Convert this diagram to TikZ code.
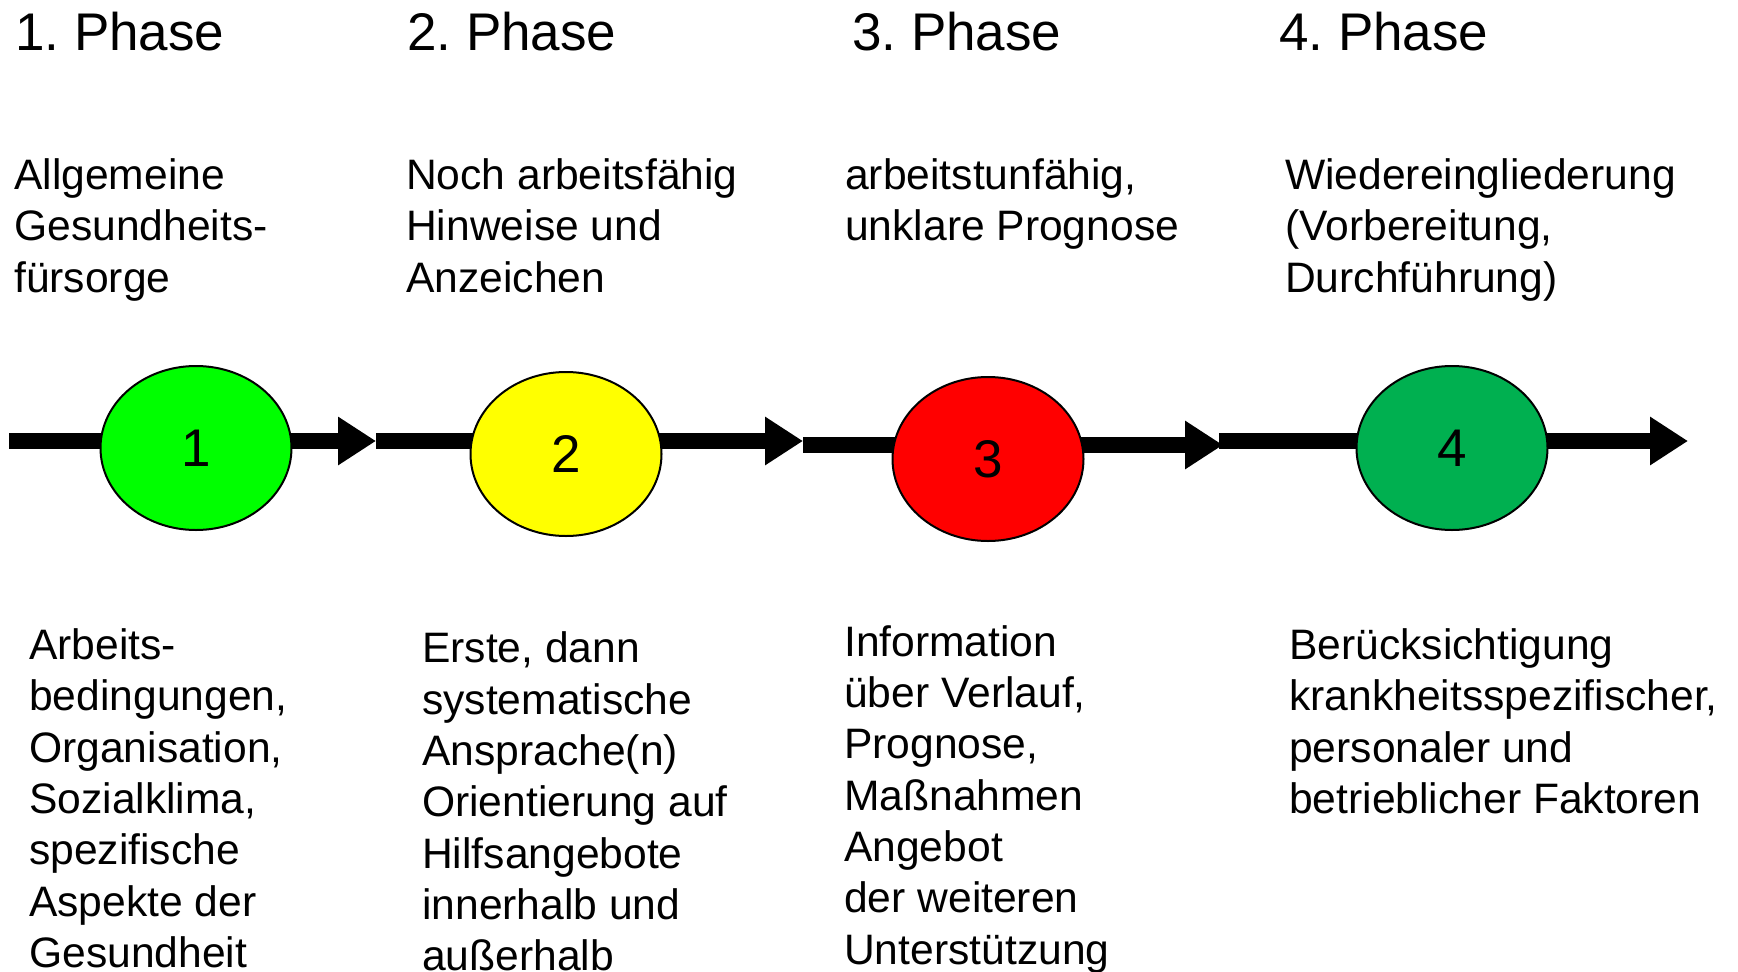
\documentclass[tikz,border=0pt]{standalone}
\usepackage{fontspec}
\setmainfont{Liberation Sans}
\usetikzlibrary{arrows.meta,shapes.geometric}
\definecolor{cgreen}{RGB}{0,255,0}
\definecolor{cyellow}{RGB}{255,255,0}
\definecolor{cred}{RGB}{255,0,0}
\definecolor{cdgreen}{RGB}{0,176,80}
\tikzset{
  phasetitle/.style={anchor=base west,inner sep=0pt,font=\fontsize{53}{60}\selectfont\frenchspacing},
  desc/.style={anchor=base west,inner sep=0pt,align=left,font=\fontsize{42.6}{51.3}\selectfont},
  flow/.style={line width=16pt,-{Triangle[length=38pt,width=46pt]}},
  phasecirc/.style={ellipse,draw=black,line width=2pt,fill=#1,minimum width=191pt,minimum height=164pt,inner sep=0pt,font=\fontsize{53}{60}\selectfont}
}
\begin{document}
\begin{tikzpicture}[x=1pt,y=-1pt]
\useasboundingbox (0,0) rectangle (1738,972);
% flow coordinates
\coordinate (a0) at (9,441);
\coordinate (a1) at (376,441);
\coordinate (a2) at (803,441);
\coordinate (b2) at (803,445);
\coordinate (a3) at (1223,445);
\coordinate (b3) at (1219,441);
\coordinate (a4) at (1688,441);
\draw[flow] (a0) -- (a1);
\draw[flow] (a1) -- (a2);
\draw[flow] (b2) -- (a3);
\draw[flow] (b3) -- (a4);
% circles
\node[phasecirc=cgreen] (c1) at (196,448) {1};
\node[phasecirc=cyellow] (c2) at (566,454) {2};
\node[phasecirc=cred] (c3) at (988,459) {3};
\node[phasecirc=cdgreen] (c4) at (1452,448) {4};
% titles
\node[phasetitle] (p1) at (15,50) {1. Phase};
\node[phasetitle] (p2) at (407,50) {2. Phase};
\node[phasetitle] (p3) at (852,50) {3. Phase};
\node[phasetitle] (p4) at (1279,50) {4. Phase};
% upper descriptions (anchor = baseline of last line)
\node[desc] (u1) at (14,292.1) {Allgemeine\\Gesundheits-\\fürsorge};
\node[desc] (u2) at (406,292.1) {Noch arbeitsfähig\\Hinweise und\\Anzeichen};
\node[desc] (u3) at (845,240.8) {arbeitstunfähig,\\unklare Prognose};
\node[desc] (u4) at (1285,292.1) {Wiedereingliederung\\(Vorbereitung,\\Durchführung)};
% lower descriptions
\node[desc] (l1) at (29,967.3) {Arbeits-\\bedingungen,\\Organisation,\\Sozialklima,\\spezifische\\Aspekte der\\Gesundheit};
\node[desc] (l2) at (422,970.6) {Erste, dann\\systematische\\Ansprache(n)\\Orientierung auf\\Hilfsangebote\\innerhalb und\\außerhalb};
\node[desc] (l3) at (844,964) {Information\\über Verlauf,\\Prognose,\\Maßnahmen\\Angebot\\der weiteren\\Unterstützung};
\node[desc] (l4) at (1289,813.4) {Berücksichtigung\\krankheitsspezifischer,\\personaler und\\betrieblicher Faktoren};
\end{tikzpicture}
\end{document}
